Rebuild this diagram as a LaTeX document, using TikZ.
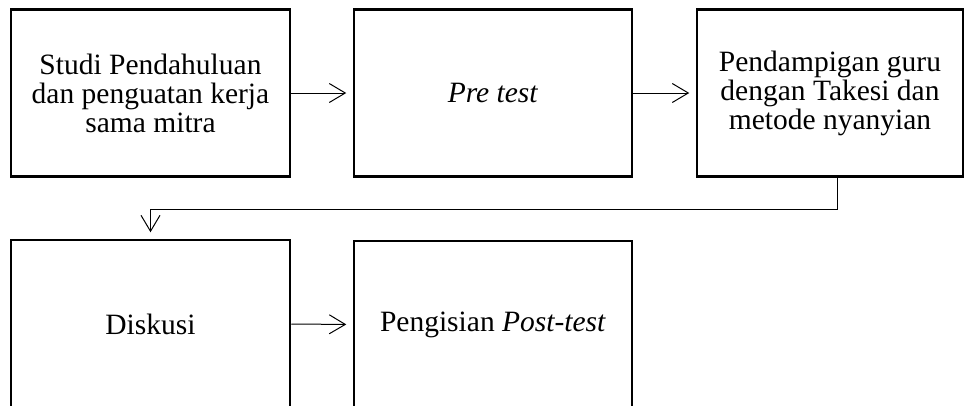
\documentclass[tikz,border=0pt]{standalone}
\usepackage{fontspec}
\setmainfont{Liberation Serif}
\usetikzlibrary{arrows.meta}

\begin{document}
\begin{tikzpicture}[x=1pt,y=-1pt,
  stagebox/.style={draw, line width=2.5pt, inner sep=0pt, align=center,
    font=\fontsize{29.5}{29}\selectfont},
  flow/.style={line width=1pt, -{Straight Barb[length=16pt,width=19pt,line width=1pt]},
    shorten >=6.5pt}]
  \useasboundingbox (0,0) rectangle (966,405);
  \clip (0,0) rectangle (966,405);

  % top row
  \node[stagebox, minimum width=279pt, minimum height=167pt] (studi) at (150.5,93)
    {Studi Pendahuluan\\dan penguatan kerja\\sama mitra};
  \node[stagebox, minimum width=278pt, minimum height=167pt] (pre) at (493,93)
    {\textit{Pre test}};
  \node[stagebox, minimum width=266pt, minimum height=167pt] (dampingan) at (830,93)
    {Pendampigan guru\\dengan Takesi dan\\metode nyanyian};

  % bottom row (runs past the lower edge)
  \node[stagebox, minimum width=279pt, minimum height=168pt] (diskusi) at (150.5,324)
    {Diskusi};
  \node[stagebox, minimum width=278pt, minimum height=167pt] (post) at (493,324.5)
    {Pengisian \textit{Post-test}};

  % connectors
  \draw[flow] (studi.east) -- (pre.west);
  \draw[flow] (pre.east) -- (dampingan.west);
  \coordinate (drop) at ([xshift=7pt]dampingan.south);
  \draw[flow] (drop) -- ++(0,31.5) -| (diskusi.north);
  \draw[flow] (diskusi.east) -- (post.west);
\end{tikzpicture}
\end{document}
